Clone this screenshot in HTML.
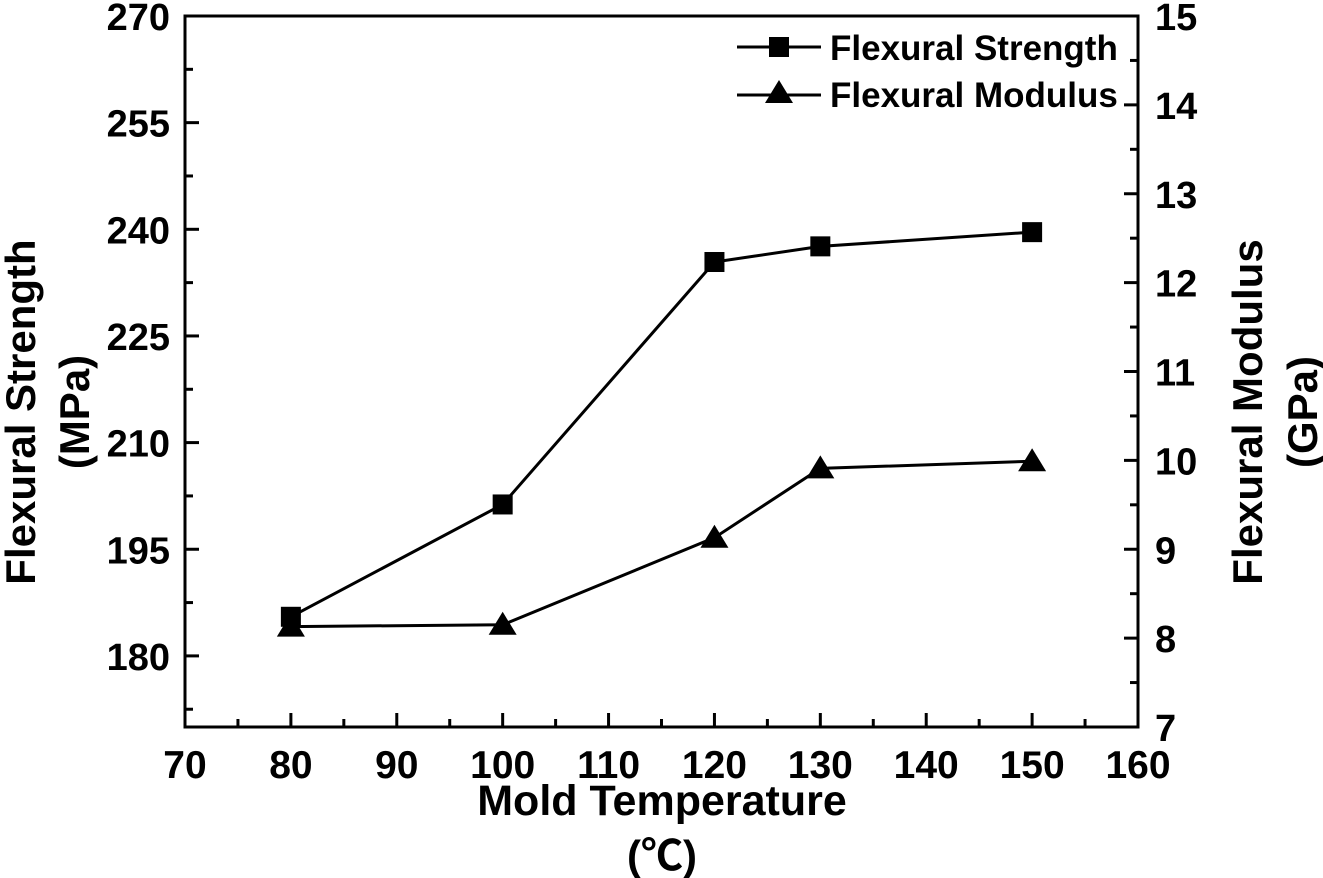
<!DOCTYPE html>
<html><head><meta charset="utf-8"><style>
html,body{margin:0;padding:0;background:#fff;}
svg{display:block;font-family:"Liberation Sans",Arial,sans-serif;font-weight:bold;}
</style></head><body>
<svg id="chart" width="1323" height="878" viewBox="0 0 1323 878"></svg>
<script>
const categories = [80, 100, 120, 130, 150];
const strengthValues = [185.5, 201.3, 235.4, 237.6, 239.6];
const modulusValues = [8.13, 8.15, 9.13, 9.91, 9.99];
const xTickLabels = [70, 80, 90, 100, 110, 120, 130, 140, 150, 160];
const leftTickLabels = [180, 195, 210, 225, 240, 255, 270];
const rightTickLabels = [7, 8, 9, 10, 11, 12, 13, 14, 15];

const L = 185, R = 1138, T = 16, B = 727;
const xs = v => L + (v - 70) / 90 * (R - L);
const yl = v => B - (v - 170) / 100 * (B - T);
const yr = v => B - (v - 7) / 8 * (B - T);
const svg = document.getElementById('chart');
const NS = 'http://www.w3.org/2000/svg';
function mk(tag, attrs, parent) {
  const e = document.createElementNS(NS, tag);
  for (const k in attrs) e.setAttribute(k, attrs[k]);
  (parent || svg).appendChild(e);
  return e;
}
function txt(s, x, y, size, anchor, parent) {
  const t = mk('text', {x: x, y: y, 'font-size': size, 'text-anchor': anchor || 'middle', fill: '#000'}, parent);
  t.textContent = s;
  return t;
}
const frame = mk('rect', {x: L, y: T, width: R - L, height: B - T, fill: 'none', stroke: '#000', 'stroke-width': 3});



const xg = mk('g', {});


for (let v = 70; v <= 160; v += 5) {
  const major = v % 10 === 0;
  mk('line', {x1: xs(v), x2: xs(v), y1: B, y2: B - (major ? 14 : 8), stroke: '#000', 'stroke-width': 3}, xg);
}
xTickLabels.forEach(v => {
  const t = txt(String(v), xs(v), 778, 39, 'middle', xg);
  
  
});
const lg = mk('g', {});


for (let v = 172.5; v <= 270; v += 7.5) {
  const major = Math.abs((v - 180) % 15) < 0.01;
  mk('line', {x1: L, x2: L + (major ? 14 : 8), y1: yl(v), y2: yl(v), stroke: '#000', 'stroke-width': 3}, lg);
}
leftTickLabels.forEach(v => {
  const t = txt(String(v), 170, yl(v) + 14, 38, 'end', lg);
  
  
});
const rg = mk('g', {});


for (let v = 7.5; v <= 15; v += 0.5) {
  const major = Math.abs(v - Math.round(v)) < 0.01;
  mk('line', {x1: R, x2: R - (major ? 14 : 8), y1: yr(v), y2: yr(v), stroke: '#000', 'stroke-width': 3}, rg);
}
rightTickLabels.forEach(v => {
  const t = txt(String(v), 1155, yr(v) + 14, 38, 'start', rg);
  
  
});
const xt = txt('Mold Temperature', 662, 815, 43);


const xu = mk('text', {x: 662, y: 870, 'font-size': 42, 'text-anchor': 'middle', 'font-family': '"Liberation Sans","Noto Sans CJK SC",sans-serif'});
xu.textContent = '(℃)';


const lt = mk('g', {});


txt('Flexural Strength', 0, 0, 42, 'middle', lt).setAttribute('transform', 'translate(35,412) rotate(-90)');
txt('(MPa)', 0, 0, 42, 'middle', lt).setAttribute('transform', 'translate(89,412) rotate(-90)');
const rt = mk('g', {});


txt('Flexural Modulus', 0, 0, 42, 'middle', rt).setAttribute('transform', 'translate(1262,412) rotate(-90)');
txt('(GPa)', 0, 0, 42, 'middle', rt).setAttribute('transform', 'translate(1317,412) rotate(-90)');

function square(x, y, g) { return mk('rect', {x: x - 10, y: y - 10, width: 20, height: 20, fill: '#000'}, g); }
function tri(x, y, g) { return mk('polygon', {points: `${x},${y - 13} ${x - 14},${y + 10} ${x + 14},${y + 10}`, fill: '#000'}, g); }
const sg = mk('g', {});


mk('polyline', {points: categories.map((c, i) => xs(c) + ',' + yl(strengthValues[i])).join(' '), fill: 'none', stroke: '#000', 'stroke-width': 3}, sg);
categories.forEach((c, i) => {
  const p = square(xs(c), yl(strengthValues[i]), sg);
  
  
});
const mg = mk('g', {});


mk('polyline', {points: categories.map((c, i) => xs(c) + ',' + yr(modulusValues[i])).join(' '), fill: 'none', stroke: '#000', 'stroke-width': 3}, mg);
categories.forEach((c, i) => {
  const p = tri(xs(c), yr(modulusValues[i]), mg);
  
  
});

const lgd = mk('g', {});


const e1 = mk('g', {}, lgd);


mk('line', {x1: 737, x2: 821, y1: 47, y2: 47, stroke: '#000', 'stroke-width': 3}, e1);
square(779, 47, e1);
txt('Flexural Strength', 830, 60, 35, 'start', e1);
const e2 = mk('g', {}, lgd);


mk('line', {x1: 737, x2: 821, y1: 95, y2: 95, stroke: '#000', 'stroke-width': 3}, e2);
tri(779, 93, e2);
txt('Flexural Modulus', 830, 107, 35, 'start', e2);
</script>
</body></html>
